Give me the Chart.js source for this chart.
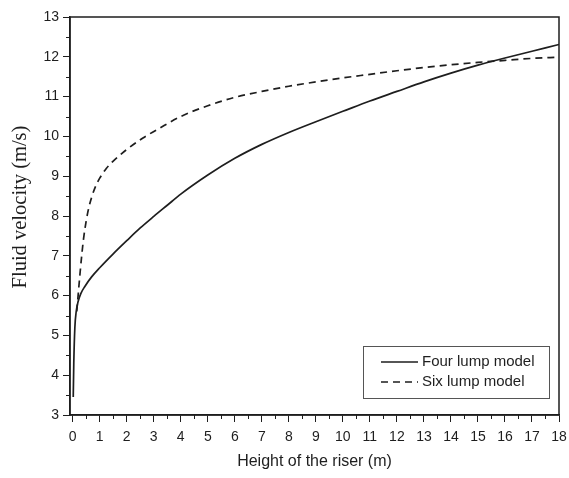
<!DOCTYPE html>
<html>
<head>
<meta charset="utf-8">
<script src="https://cdn.jsdelivr.net/npm/chart.js@4.4.0/dist/chart.umd.min.js"></script>
<style>
  html, body { margin: 0; padding: 0; background: #fff; }
  canvas { display: block; }
</style>
</head>
<body>
<canvas id="riser" width="569" height="478"></canvas>
<script>
// Fluid velocity along the riser height for the two kinetic lumping schemes
const fourLumpHeight   = [0.02, 0.04, 0.08, 0.13, 0.2, 0.3, 0.45, 0.7, 1.0, 1.5, 2.0, 2.5, 3.0, 3.5, 4.0, 5.0, 6.0, 7.0, 8.0, 9.0, 10.0, 11.0, 12.0, 13.0, 14.0, 15.0, 16.0, 17.0, 18.0];
const fourLumpVelocity = [3.45, 4.3, 5.2, 5.6, 5.85, 6.05, 6.23, 6.47, 6.7, 7.05, 7.38, 7.7, 7.99, 8.27, 8.55, 9.03, 9.45, 9.8, 10.1, 10.37, 10.63, 10.89, 11.13, 11.37, 11.59, 11.79, 11.97, 12.14, 12.31];

const sixLumpHeight    = [0.15, 0.2, 0.27, 0.34, 0.4, 0.5, 0.6, 0.7, 0.85, 1.0, 1.25, 1.5, 2.0, 2.6, 3.2, 4.0, 5.0, 6.0, 7.0, 8.0, 9.0, 10.0, 11.0, 12.0, 13.0, 14.0, 15.0, 16.0, 17.0, 18.0];
const sixLumpVelocity  = [5.6, 6.0, 6.55, 7.05, 7.42, 7.88, 8.22, 8.47, 8.75, 8.95, 9.2, 9.38, 9.67, 9.96, 10.2, 10.5, 10.77, 10.98, 11.13, 11.26, 11.37, 11.47, 11.56, 11.65, 11.73, 11.8, 11.86, 11.91, 11.96, 11.99];

const seriesNames = ['Four lump model', 'Six lump model'];
const xTickValues = [0, 1, 2, 3, 4, 5, 6, 7, 8, 9, 10, 11, 12, 13, 14, 15, 16, 17, 18];
const yTickValues = [3, 4, 5, 6, 7, 8, 9, 10, 11, 12, 13];
const xAxisTitle = 'Height of the riser (m)';
const yAxisTitle = 'Fluid velocity (m/s)';

const INK = '#1e1e1e';
const SANS = '"Liberation Sans", Arial, sans-serif';
const SERIF = '"Liberation Serif", "Times New Roman", serif';

const toPoints = (xs, ys) => xs.map((x, i) => ({ x: x, y: ys[i] }));

// Half-step minor ticks plus the closed frame around the plot area
const frameAndMinorTicks = {
  id: 'frameAndMinorTicks',
  afterDraw(chart) {
    const { ctx, chartArea: a, scales } = chart;
    ctx.save();
    ctx.strokeStyle = INK;
    ctx.lineWidth = 1;
    ctx.beginPath();
    for (let i = 0; i < xTickValues.length - 1; i++) {
      const px = Math.round(scales.x.getPixelForValue((xTickValues[i] + xTickValues[i + 1]) / 2)) + 0.5;
      ctx.moveTo(px, a.bottom);
      ctx.lineTo(px, a.bottom + 4);
    }
    for (let i = 0; i < yTickValues.length - 1; i++) {
      const py = Math.round(scales.y.getPixelForValue((yTickValues[i] + yTickValues[i + 1]) / 2)) + 0.5;
      ctx.moveTo(a.left, py);
      ctx.lineTo(a.left - 4, py);
    }
    ctx.stroke();
    ctx.lineWidth = 1.5;
    ctx.strokeRect(a.left, a.top, a.right - a.left, a.bottom - a.top);
    ctx.restore();
  }
};

// Rotated serif title for the velocity axis, set a little above the axis middle
const velocityTitle = {
  id: 'velocityTitle',
  afterDraw(chart) {
    const { ctx, chartArea: a } = chart;
    ctx.save();
    ctx.translate(21, (a.top + a.bottom) / 2 - 9);
    ctx.rotate(-Math.PI / 2);
    ctx.font = '20.5px ' + SERIF;
    ctx.fillStyle = INK;
    ctx.textAlign = 'center';
    ctx.textBaseline = 'middle';
    ctx.fillText(yAxisTitle, 0, 0);
    ctx.restore();
  }
};

// Boxed legend in the lower right corner of the plot
const boxedLegend = {
  id: 'boxedLegend',
  afterDraw(chart) {
    const { ctx, chartArea: a } = chart;
    const w = 186, h = 52;
    const x0 = a.right - 10 - w;
    const y0 = a.bottom - 17 - h;
    ctx.save();
    ctx.fillStyle = '#fff';
    ctx.fillRect(x0, y0, w, h);
    ctx.strokeStyle = '#555';
    ctx.lineWidth = 1;
    ctx.strokeRect(x0 + 0.5, y0 + 0.5, w, h);
    ctx.font = '15px ' + SANS;
    ctx.textBaseline = 'middle';
    ctx.fillStyle = INK;
    chart.data.datasets.forEach((ds, i) => {
      const cy = y0 + 16 + i * 20;
      ctx.strokeStyle = ds.borderColor;
      ctx.lineWidth = ds.borderWidth;
      ctx.setLineDash(ds.borderDash || []);
      ctx.beginPath();
      ctx.moveTo(x0 + 18, cy);
      ctx.lineTo(x0 + 55, cy);
      ctx.stroke();
      ctx.setLineDash([]);
      ctx.fillText(ds.label, x0 + 59, cy);
    });
    ctx.restore();
  }
};

const tickFont = { family: SANS, size: 14 };

new Chart(document.getElementById('riser'), {
  type: 'line',
  data: {
    datasets: [
      {
        label: seriesNames[0],
        data: toPoints(fourLumpHeight, fourLumpVelocity),
        borderColor: INK,
        borderWidth: 1.7,
        pointRadius: 0,
        fill: false,
        cubicInterpolationMode: 'monotone'
      },
      {
        label: seriesNames[1],
        data: toPoints(sixLumpHeight, sixLumpVelocity),
        borderColor: INK,
        borderWidth: 1.7,
        borderDash: [7, 5],
        pointRadius: 0,
        fill: false,
        cubicInterpolationMode: 'monotone'
      }
    ]
  },
  options: {
    responsive: false,
    animation: false,
    events: [],
    layout: { padding: { top: 17, right: 10, left: 0, bottom: 0 } },
    plugins: { legend: { display: false }, tooltip: { enabled: false } },
    scales: {
      x: {
        type: 'linear',
        min: -0.1,
        max: 18,
        afterBuildTicks: (scale) => { scale.ticks = xTickValues.map(v => ({ value: v })); },
        afterFit: (scale) => {
          scale.height = 63;
          scale.paddingLeft = 0;
          scale.paddingRight = 0;
        },
        border: { display: true, color: INK, width: 1.5 },
        grid: { display: true, drawOnChartArea: false, drawTicks: true, tickLength: 7, tickColor: INK, tickWidth: 1 },
        ticks: { autoSkip: false, maxRotation: 0, color: INK, font: tickFont, padding: 7 },
        title: {
          display: true,
          text: xAxisTitle,
          color: INK,
          font: { family: SANS, size: 16 },
          padding: { top: 0, bottom: 7 }
        }
      },
      y: {
        type: 'linear',
        min: 3,
        max: 13,
        afterBuildTicks: (scale) => { scale.ticks = yTickValues.map(v => ({ value: v })); },
        afterFit: (scale) => {
          scale.width = 70;
          scale.paddingTop = 0;
          scale.paddingBottom = 0;
        },
        border: { display: true, color: INK, width: 1.5 },
        grid: { display: true, drawOnChartArea: false, drawTicks: true, tickLength: 7, tickColor: INK, tickWidth: 1 },
        ticks: { autoSkip: false, color: INK, font: tickFont, padding: 4 }
      }
    }
  },
  plugins: [frameAndMinorTicks, velocityTitle, boxedLegend]
});
</script>
</body>
</html>
